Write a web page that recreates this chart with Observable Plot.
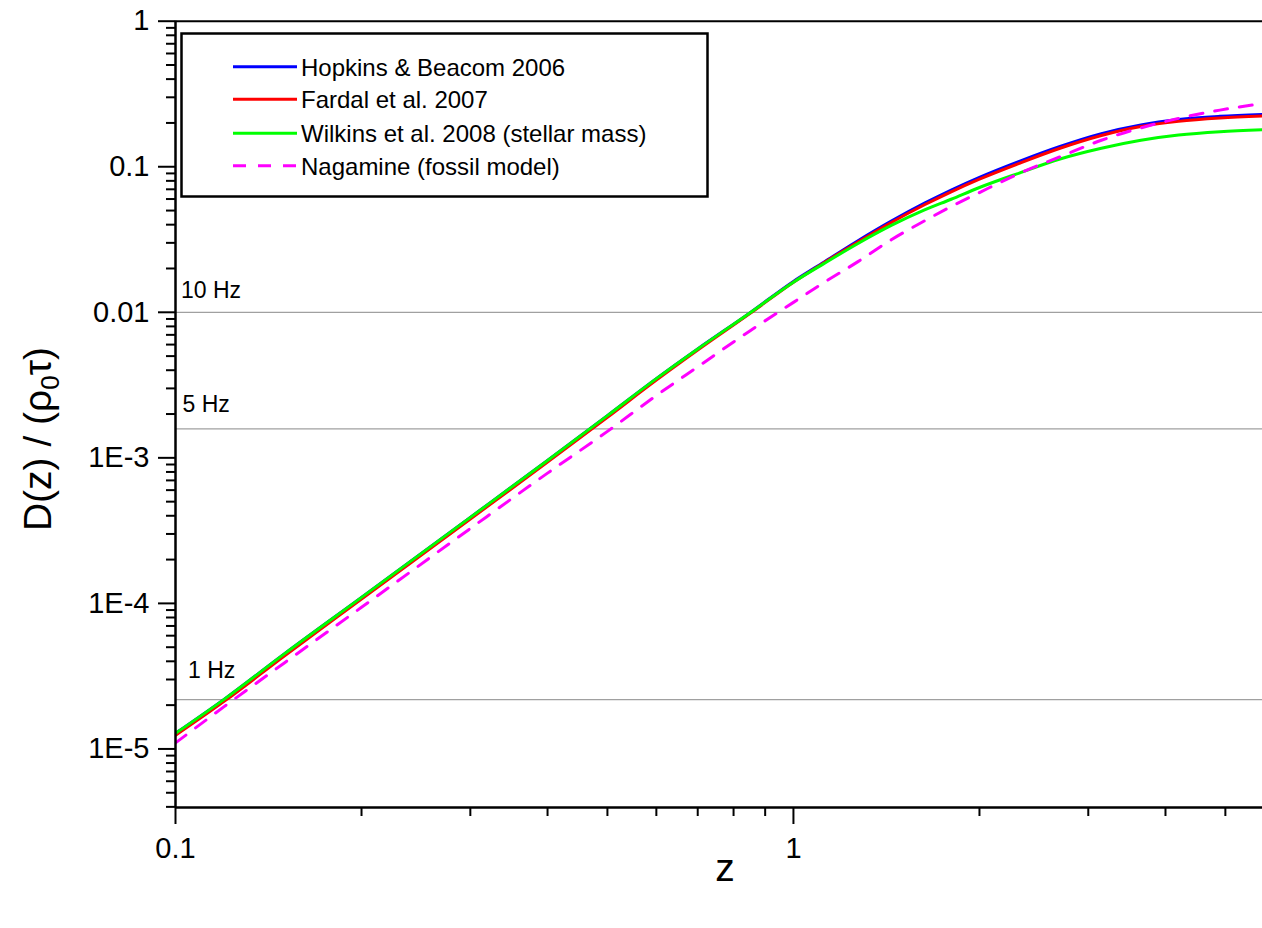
<!DOCTYPE html>
<html>
<head>
<meta charset="utf-8">
<script src="https://cdn.jsdelivr.net/npm/d3@7"></script>
<script src="https://cdn.jsdelivr.net/npm/@observablehq/plot@0.6"></script>
<style>
  html, body { margin: 0; padding: 0; background: #fff; }
  #chart svg { display: block; }
</style>
</head>
<body>
<div id="chart"></div>
<script>
// ---- data ----
const z = [0.1, 0.12, 0.15, 0.2, 0.3, 0.4, 0.5, 0.6, 0.7, 0.85, 1.0, 1.12, 1.27, 1.44, 1.63, 1.8, 2.0, 2.32, 2.7, 3.15, 3.65, 4.2, 4.9, 5.74];
const hopkins  = [1.28e-5, 2.2e-5, 4.5e-5, 1.1e-4, 3.9e-4, 9.6e-4, 1.95e-3, 3.5e-3, 5.6e-3, 0.0099, 0.0163, 0.0221, 0.0309, 0.0423, 0.0562, 0.0692, 0.0846, 0.109, 0.138, 0.169, 0.194, 0.211, 0.222, 0.229];
const fardal   = [1.24e-5, 2.13e-5, 4.35e-5, 1.07e-4, 3.8e-4, 9.35e-4, 1.9e-3, 3.42e-3, 5.5e-3, 0.0098, 0.0161, 0.0219, 0.0303, 0.0414, 0.0548, 0.0673, 0.0822, 0.1056, 0.134, 0.164, 0.189, 0.205, 0.216, 0.223];
const wilkins  = [1.28e-5, 2.2e-5, 4.5e-5, 1.1e-4, 3.9e-4, 9.6e-4, 1.95e-3, 3.5e-3, 5.6e-3, 0.0099, 0.0161, 0.0216, 0.0296, 0.0395, 0.0505, 0.0598, 0.0720, 0.0905, 0.113, 0.134, 0.152, 0.165, 0.174, 0.1795];
const nagamine = [1.10e-5, 1.96e-5, 3.9e-5, 9.4e-5, 3.27e-4, 7.85e-4, 1.52e-3, 2.68e-3, 4.22e-3, 7.45e-3, 0.0117, 0.0160, 0.0222, 0.0315, 0.0425, 0.0533, 0.0665, 0.0900, 0.117, 0.152, 0.185, 0.215, 0.245, 0.272];

const seriesNames  = ["Hopkins & Beacom 2006", "Fardal et al. 2007", "Wilkins et al. 2008 (stellar mass)", "Nagamine (fossil model)"];
const seriesValues = [hopkins, fardal, wilkins, nagamine];
const seriesColors = ["#0000ff", "#ff0000", "#00ff00", "#ff00ff"];
const seriesDash   = [null, null, null, "13,12"];

const refValues = [0.01, 1.58e-3, 2.18e-5];
const refLabels = ["10 Hz", "5 Hz", "1 Hz"];

const xTicks = [0.1, 1];
const xTickLabels = ["0.1", "1"];
const xMinor = [0.2, 0.3, 0.4, 0.5, 0.6, 0.7, 0.8, 0.9, 2, 3, 4, 5];
const yTicks = [1, 0.1, 0.01, 1e-3, 1e-4, 1e-5];
const yTickLabels = ["1", "0.1", "0.01", "1E-3", "1E-4", "1E-5"];
const yMinorMultipliers = [2, 3, 4, 5, 6, 7, 8, 9];
const yMinorDecades = [1e-6, 1e-5, 1e-4, 1e-3, 1e-2, 1e-1];

const xDomain = [0.1, 5.742];
const yDomain = [3.96e-6, 1];
const xLabel = "z";

// ---- build tables ----
const yMinor = [];
for (const d of yMinorDecades) for (const m of yMinorMultipliers) {
  const v = +(m * d).toPrecision(3);
  if (v >= yDomain[0] && v <= yDomain[1]) yMinor.push(v);
}
const rows = seriesNames.map((name, i) => z.map((zz, j) => ({series: name, z: zz, v: seriesValues[i][j]})));

const font = "'Liberation Sans', Arial, Helvetica, sans-serif";

const marks = [
  Plot.ruleY(refValues, {stroke: "#a0a0a0", strokeWidth: 1.3}),
  ...rows.map((data, i) => Plot.line(data, {
    x: "z", y: "v", stroke: seriesColors[i], strokeWidth: 3,
    strokeDasharray: seriesDash[i] || undefined, curve: "monotone-x", clip: true
  })),
  Plot.text([0], {x: () => xDomain[0], y: () => refValues[0], text: () => refLabels[0], textAnchor: "start", lineAnchor: "bottom", dx: 5.5, dy: -14, fontSize: 23}),
  Plot.text([1], {x: () => xDomain[0], y: () => refValues[1], text: () => refLabels[1], textAnchor: "start", lineAnchor: "bottom", dx: 7, dy: -17, fontSize: 23}),
  Plot.text([2], {x: () => xDomain[0], y: () => refValues[2], text: () => refLabels[2], textAnchor: "start", lineAnchor: "bottom", dx: 12.5, dy: -22, fontSize: 23}),
  Plot.axisY(yTicks, {tickSize: 17, tickPadding: 9, strokeWidth: 2, fontSize: 29,
    tickFormat: d => yTickLabels[yTicks.indexOf(d)], label: null}),
  Plot.axisY(yMinor, {tickSize: 9, strokeWidth: 2, tickFormat: () => "", label: null}),
  Plot.axisX(xTicks, {tickSize: 17, tickPadding: 13, strokeWidth: 2, fontSize: 29,
    tickFormat: d => xTickLabels[xTicks.indexOf(d)], label: null}),
  Plot.axisX(xMinor, {tickSize: 9, strokeWidth: 2, tickFormat: () => "", label: null}),
  Plot.ruleX([xDomain[0]], {strokeWidth: 2.5}),
  Plot.ruleY([yDomain[0]], {strokeWidth: 2.5}),
  Plot.ruleY([yDomain[1]], {strokeWidth: 2})
];

const chart = Plot.plot({
  width: 1262,
  height: 928,
  marginTop: 20.7,
  marginBottom: 121,
  marginLeft: 175,
  marginRight: 0,
  x: {type: "log", domain: xDomain},
  y: {type: "log", domain: yDomain},
  style: {fontFamily: font, background: "#fff", color: "#000", overflow: "visible"},
  marks
});

// ---- legend, axis titles (drawn in the same SVG) ----
const svg = d3.select(chart);
const lg = svg.append("g").attr("font-family", font).attr("text-anchor", "start");
lg.append("rect").attr("x", 181.5).attr("y", 33.5).attr("width", 526).attr("height", 163)
  .attr("fill", "#fff").attr("stroke", "#000").attr("stroke-width", 2.5);
const rowY = [66.7, 99.3, 133.3, 165.7];
seriesNames.forEach((name, i) => {
  lg.append("line").attr("x1", 233).attr("x2", 297).attr("y1", rowY[i]).attr("y2", rowY[i])
    .attr("stroke", seriesColors[i]).attr("stroke-width", 3)
    .attr("stroke-dasharray", seriesDash[i] || null);
  lg.append("text").attr("x", 301).attr("y", rowY[i] + 9).attr("font-size", 24)
    .attr("text-anchor", "start").attr("fill", "#000").text(name);
});

const yl = svg.append("text").attr("font-family", font).attr("font-size", 39).attr("fill", "#000")
  .attr("text-anchor", "middle").attr("transform", "translate(51,439) rotate(-90)");
yl.append("tspan").text("D(z) / (ρ");
yl.append("tspan").attr("font-size", 26).attr("dy", 8).text("0");
yl.append("tspan").attr("dy", -8).text("τ)");

svg.append("text").attr("font-family", font).attr("font-size", 39).attr("fill", "#000")
  .attr("text-anchor", "middle").attr("x", 725).attr("y", 881).text(xLabel);

document.getElementById("chart").appendChild(chart);
</script>
</body>
</html>
